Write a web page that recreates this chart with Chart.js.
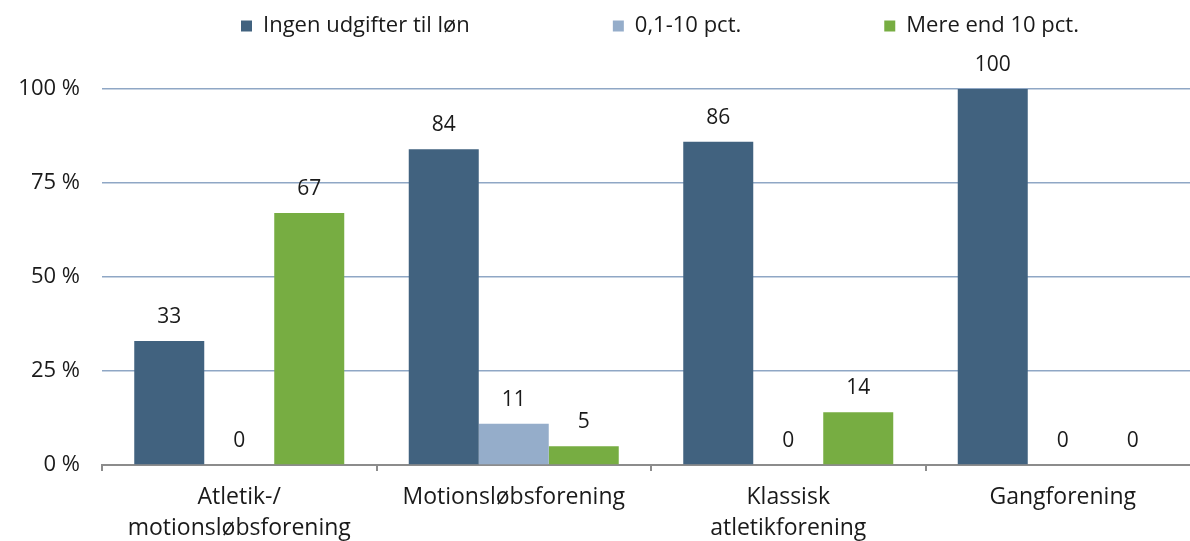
<!DOCTYPE html>
<html>
<head>
<meta charset="utf-8">
<script src="https://cdn.jsdelivr.net/npm/chart.js@4/dist/chart.umd.min.js"></script>
<style>
  html, body { margin: 0; padding: 0; background: #fff; overflow: hidden; }
  #wrap { width: 1200px; height: 541px; }
</style>
</head>
<body>
<div id="wrap"><canvas id="chart" width="1200" height="541"></canvas></div>
<script>
// DATA
const categories = [
  ["Atletik-/", "motionsløbsforening"],
  "Motionsløbsforening",
  ["Klassisk", "atletikforening"],
  "Gangforening"
];
const seriesNames = ["Ingen udgifter til løn", "0,1-10 pct.", "Mere end 10 pct."];
const ingenLoen = [33, 84, 86, 100];
const lavLoen = [0, 11, 0, 0];
const hoejLoen = [67, 5, 14, 0];
const yTicks = [0, 25, 50, 75, 100];

const colors = ["#41627f", "#95adca", "#77ad42"];
const font = "'Open Sans'";

// value labels above each bar
const valueLabels = {
  id: "valueLabels",
  afterDatasetsDraw(chart) {
    let ctx = chart.ctx;
    ctx.save();
    ctx.font = "21px " + font;
    ctx.fillStyle = "#1a1a1a";
    ctx.textAlign = "center";
    ctx.textBaseline = "middle";
    chart.data.datasets.forEach((ds, i) => {
      chart.getDatasetMeta(i).data.forEach((bar, j) => {
        ctx.fillText(ds.data[j], bar.x, bar.y - 24);
      });
    });
    ctx.restore();
  }
};

// place the wide-spaced legend row near the top
const legendPlace = {
  id: "legendPlace",
  afterLayout(chart) {
    let lg = chart.legend;
    let pad = lg.options.labels.padding;
    lg.left = 241 - pad;
    lg.right = 2000;
    lg.top = 15 - pad;
  }
};

let ctx = document.getElementById("chart").getContext("2d");
let chart = new Chart(ctx, {
  type: "bar",
  data: {
    labels: categories,
    datasets: [
      { label: seriesNames[0], data: ingenLoen, backgroundColor: colors[0] },
      { label: seriesNames[1], data: lavLoen, backgroundColor: colors[1] },
      { label: seriesNames[2], data: hoejLoen, backgroundColor: colors[2] }
    ]
  },
  options: {
    responsive: false,
    animation: false,
    layout: { padding: 0 },
    datasets: {
      bar: { categoryPercentage: 0.765, barPercentage: 1 }
    },
    plugins: {
      tooltip: { enabled: false },
      legend: {
        position: "top",
        align: "start",
        maxHeight: 89,
        labels: {
          boxWidth: 11,
          boxHeight: 11,
          padding: 143,
          color: "#1a1a1a",
          font: { family: font, size: 22 }
        }
      }
    },
    scales: {
      x: {
        afterFit(scale) { scale.height = 76; },
        grid: {
          display: true,
          drawOnChartArea: false,
          drawTicks: true,
          tickLength: 6,
          color: "#8c8c8c",
          lineWidth: 2
        },
        border: { display: true, color: "#8c8c8c", width: 2 },
        ticks: {
          color: "#1a1a1a",
          font: { family: font, size: 23, lineHeight: 1.36 },
          padding: 11,
          maxRotation: 0,
          minRotation: 0,
          autoSkip: false
        }
      },
      y: {
        afterFit(scale) { scale.width = 102; },
        min: 0,
        max: 100,
        afterBuildTicks(scale) {
          scale.ticks = yTicks.map(v => ({ value: v }));
        },
        grid: {
          color: "#8fa7c5",
          lineWidth: 1.5,
          drawTicks: false
        },
        border: { display: false },
        ticks: {
          color: "#1a1a1a",
          font: { family: font, size: 22 },
          padding: 22,
          callback: v => v + " %"
        }
      }
    }
  },
  plugins: [valueLabels, legendPlace]
});
</script>
</body>
</html>
